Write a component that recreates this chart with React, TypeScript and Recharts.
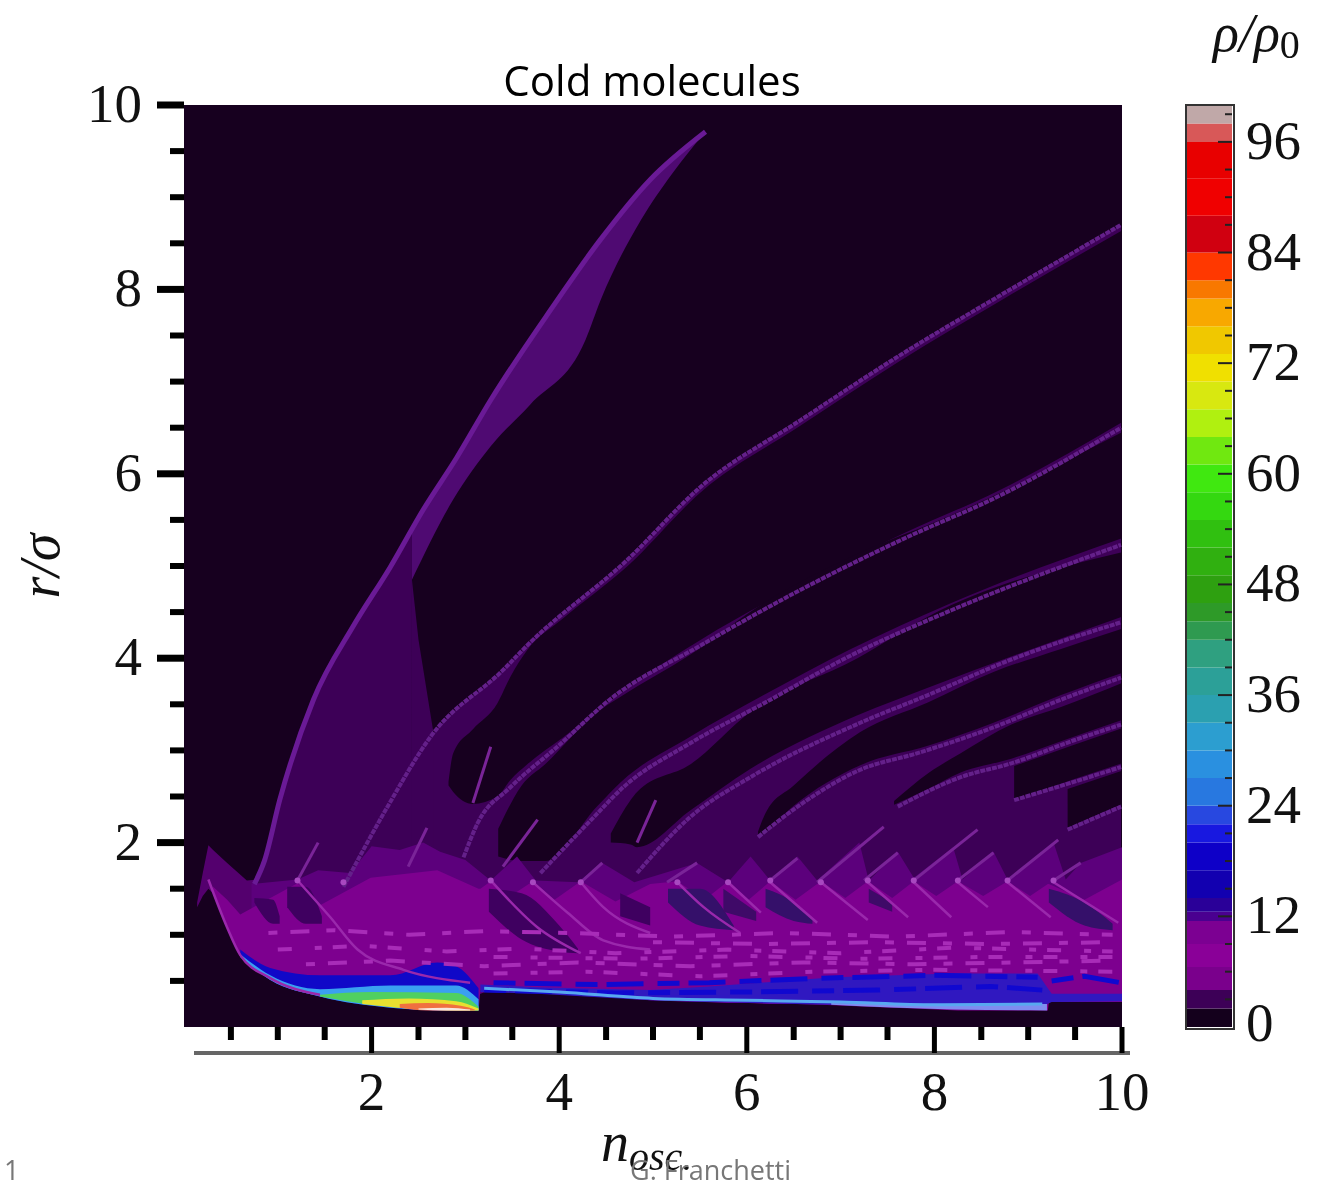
import { Area, Bar, BarChart, ComposedChart, Line, XAxis, YAxis } from 'recharts';

// every band row is [n_osc, low, high], every trace point is [n_osc, r]
type Row = [number, number, number];
type Pt = [number, number];

const axisTicks = [0.5, 1, 1.5, 2, 2.5, 3, 3.5, 4, 4.5, 5, 5.5, 6, 6.5, 7, 7.5, 8, 8.5, 9, 9.5, 10];
const majorTicks = [2, 4, 6, 8, 10];

const backdrop: Row[] = [[0, 0, 10], [10, 0, 10]];
const hump: Row[] = [[0.14, 1.3, 1.35], [0.2, 1.42, 1.67], [0.26, 1.5, 1.97], [0.31, 1.45, 1.92], [0.46, 1.08, 1.78], [0.67, 0.8, 1.59], [0.8, 0.8, 1.6]];
const wedgeLower: Row[] = [[0.75, 1, 1.55], [0.86, 1, 1.81], [1.02, 1, 2.46], [1.38, 1, 3.55], [1.8, 1, 4.34], [2.2, 1, 4.99], [2.43, 1, 5.35]];
const wedgeRight: Row[] = [[2.43, 1, 4.85], [2.5, 1, 4.2], [2.66, 1, 3.19]];
const wedgeUpper: Row[] = [[2.43, 4.85, 5.4], [2.87, 5.72, 6.13], [3.27, 6.3, 6.8], [3.69, 6.75, 7.42], [4.28, 7.45, 8.33], [4.44, 7.88, 8.54], [4.87, 8.75, 9.08], [5.2, 9.25, 9.42], [5.56, 9.71, 9.71]];
const fanBody: Row[] = [[1.7, 1, 1.52], [2.17, 1, 2.39], [2.63, 1, 3.15], [3.4, 1, 3.87], [3.66, 1, 4.14], [4.73, 1, 5.07], [5.51, 1, 5.86], [6.57, 1, 6.58], [7.64, 1, 7.29], [8.71, 1, 7.94], [9.99, 1, 8.7]];

const gapA: Row[] = [[2.82, 2.62, 2.66], [2.87, 2.55, 2.97], [3.08, 2.42, 3.23], [3.34, 2.5, 3.51], [3.48, 2.68, 3.8], [3.66, 2.85, 4.09], [4.04, 3.14, 4.43], [4.73, 3.68, 5.0], [5.51, 4.2, 5.8], [6.57, 4.8, 6.52], [7.64, 5.34, 7.23], [8.71, 5.83, 7.88], [10, 6.56, 8.64]];
const gapB: Row[] = [[3.35, 1.85, 2.15], [3.6, 1.8, 2.62], [3.85, 1.8, 2.85], [4.41, 2.4, 3.42], [4.65, 2.65, 3.58], [5.4, 3.15, 4.04], [6.18, 3.6, 4.6], [7.11, 4.1, 5.1], [8.18, 4.6, 5.55], [10, 5.3, 6.45]];
const gapC: Row[] = [[4.55, 2.0, 2.1], [4.76, 1.98, 2.46], [4.83, 1.95, 2.55], [5.4, 2.35, 2.85], [6.04, 2.8, 3.42], [7.18, 3.38, 4.0], [7.93, 3.68, 4.45], [10, 4.45, 5.15]];
const gapD: Row[] = [[6.12, 2.08, 2.12], [6.2, 2.12, 2.32], [6.5, 2.4, 2.62], [7.21, 2.84, 3.2], [7.93, 3.05, 3.52], [8.63, 3.3, 3.85], [9.35, 3.6, 4.1], [10, 3.84, 4.32]];
const gapE: Row[] = [[7.57, 2.41, 2.45], [7.93, 2.58, 2.75], [8.28, 2.76, 2.97], [8.82, 2.91, 3.28], [9.35, 3.1, 3.47], [10, 3.33, 3.73]];
const gapF: Row[] = [[8.85, 2.46, 2.83], [9.46, 2.68, 3.05], [10, 2.86, 3.24]];
const gapG: Row[] = [[9.42, 2.16, 2.58], [10, 2.42, 2.78]];

const midMass: Row[] = [[0.72, 0.8, 1.55], [1.21, 0.5, 1.6], [1.43, 0.35, 1.7], [1.77, 0.3, 1.67], [2.0, 0.3, 1.96], [2.3, 0.3, 1.92], [2.55, 0.3, 2.0], [2.73, 0.3, 1.9], [3.0, 0.3, 1.81], [3.27, 0.4, 1.59], [3.55, 0.4, 1.85], [3.75, 0.4, 1.59], [4.2, 0.35, 1.57], [4.46, 0.35, 1.78], [4.8, 0.3, 1.57], [5.47, 0.3, 1.78], [5.8, 0.3, 1.57], [6.04, 0.3, 1.85], [6.25, 0.3, 1.59], [6.54, 0.3, 1.85], [6.75, 0.3, 1.59], [7.2, 0.3, 2.0], [7.3, 0.3, 1.59], [7.61, 0.3, 1.9], [7.78, 0.3, 1.62], [8.2, 0.3, 1.95], [8.3, 0.3, 1.6], [8.63, 0.3, 1.9], [8.78, 0.3, 1.6], [9.27, 0.3, 2.0], [9.4, 0.3, 1.6], [9.56, 0.3, 1.78], [10, 0.3, 1.95]];
const magentaMass: Row[] = [[0.31, 1.48, 1.52], [0.46, 1.08, 1.38], [0.6, 0.76, 1.22], [0.92, 0.51, 1.4], [1.21, 0.42, 1.56], [1.45, 0.33, 1.32], [1.99, 0.24, 1.62], [2.7, 0.18, 1.7], [3.14, 0.18, 1.5], [3.16, 0.4, 1.5], [3.27, 0.4, 1.58], [3.45, 0.39, 1.4], [3.72, 0.37, 1.58], [3.95, 0.36, 1.38], [4.23, 0.34, 1.58], [4.6, 0.32, 1.36], [4.97, 0.29, 1.55], [5.26, 0.28, 1.58], [5.55, 0.27, 1.38], [5.8, 0.26, 1.58], [6.02, 0.26, 1.38], [6.25, 0.25, 1.58], [6.52, 0.25, 1.38], [6.79, 0.24, 1.58], [7.05, 0.23, 1.4], [7.29, 0.22, 1.58], [7.55, 0.21, 1.4], [7.78, 0.2, 1.58], [8.02, 0.19, 1.42], [8.25, 0.18, 1.58], [8.52, 0.18, 1.42], [8.78, 0.18, 1.58], [9.02, 0.18, 1.42], [9.21, 0.18, 1.55], [9.22, 0.27, 1.55], [9.6, 0.27, 1.38], [10, 0.27, 1.6]];

const shadeA: Row[] = [[0.75, 1.35, 1.4], [0.95, 1.12, 1.38], [1.02, 1.12, 1.2]];
const shadeB: Row[] = [[1.1, 1.3, 1.52], [1.3, 1.12, 1.52], [1.47, 1.12, 1.2]];
const shadeC: Row[] = [[3.25, 1.25, 1.5], [3.6, 0.95, 1.45], [4.0, 0.82, 1.1], [4.2, 0.8, 0.85]];
const shadeD: Row[] = [[4.65, 1.2, 1.45], [4.97, 1.1, 1.3]];
const shadeE: Row[] = [[5.16, 1.35, 1.5], [5.5, 1.1, 1.5], [5.86, 1.05, 1.1]];
const shadeF: Row[] = [[5.75, 1.25, 1.5], [6.1, 1.15, 1.25]];
const shadeG: Row[] = [[6.2, 1.3, 1.5], [6.5, 1.15, 1.35], [6.7, 1.12, 1.16]];
const shadeH: Row[] = [[7.3, 1.35, 1.5], [7.55, 1.25, 1.35]];
const shadeI: Row[] = [[9.22, 1.35, 1.5], [9.6, 1.1, 1.35], [9.9, 1.05, 1.12]];

const blueFront: Row[] = [[0.6, 0.76, 0.84], [0.92, 0.51, 0.64], [1.45, 0.33, 0.56], [2.2, 0.21, 0.56], [2.7, 0.18, 0.7], [2.9, 0.18, 0.66], [3.14, 0.18, 0.42]];
const azureFront: Row[] = [[0.6, 0.76, 0.79], [0.92, 0.51, 0.56], [1.45, 0.33, 0.41], [2.2, 0.21, 0.45], [2.9, 0.18, 0.45], [3.14, 0.18, 0.3]];
const greenFront: Row[] = [[1.45, 0.33, 0.35], [2.0, 0.24, 0.38], [2.9, 0.18, 0.37], [3.14, 0.18, 0.22]];
const yellowFront: Row[] = [[1.9, 0.25, 0.29], [2.4, 0.2, 0.31], [2.9, 0.18, 0.28], [3.14, 0.18, 0.2]];
const redFront: Row[] = [[2.3, 0.21, 0.25], [2.6, 0.18, 0.26], [2.95, 0.18, 0.23], [3.1, 0.18, 0.19]];
const whiteFront: Row[] = [[2.5, 0.19, 0.2], [2.8, 0.18, 0.21], [3.05, 0.18, 0.19]];
const blueTail: Row[] = [[3.16, 0.38, 0.46], [3.77, 0.36, 0.43], [4.97, 0.29, 0.4], [5.6, 0.27, 0.44], [6.93, 0.24, 0.54], [8.18, 0.2, 0.58], [9.1, 0.2, 0.58], [9.25, 0.27, 0.36], [10, 0.28, 0.36]];
const paleTail: Row[] = [[6.9, 0.24, 0.26], [8.2, 0.19, 0.25], [9.2, 0.18, 0.25]];

const traceWedge: Pt[] = [[0.75, 1.55], [0.86, 1.81], [1.02, 2.46], [1.38, 3.55], [1.8, 4.34], [2.2, 4.99], [2.55, 5.61], [2.91, 6.18], [3.27, 6.8], [3.91, 7.78], [4.44, 8.54], [4.97, 9.19], [5.56, 9.71]];
const traceOne: Pt[] = [[1.7, 1.52], [2.17, 2.39], [2.63, 3.15], [3.4, 3.87], [3.66, 4.14], [4.73, 5.07], [5.51, 5.86], [6.57, 6.58], [7.64, 7.29], [8.71, 7.94], [9.99, 8.7]];
const traceTwo: Pt[] = [[2.98, 1.84], [3.13, 2.21], [3.48, 2.6], [3.98, 3.04], [4.55, 3.56], [5.51, 4.14], [6.57, 4.74], [7.64, 5.28], [8.71, 5.77], [9.99, 6.5]];
const traceThree: Pt[] = [[3.8, 1.67], [4.41, 2.32], [4.65, 2.57], [5.4, 3.08], [6.18, 3.51], [7.11, 4.03], [8.18, 4.52], [9.99, 5.23]];
const traceFour: Pt[] = [[4.83, 1.67], [5.4, 2.28], [6.04, 2.71], [7.21, 3.3], [7.93, 3.6], [8.78, 3.97], [9.35, 4.18], [9.99, 4.39]];
const traceFive: Pt[] = [[6.12, 2.06], [6.57, 2.41], [7.21, 2.79], [7.82, 2.97], [8.63, 3.25], [9.35, 3.55], [9.99, 3.79]];
const traceSix: Pt[] = [[7.61, 2.39], [8.28, 2.71], [8.82, 2.86], [9.49, 3.11], [9.99, 3.28]];
const traceSeven: Pt[] = [[8.85, 2.46], [9.46, 2.65], [9.99, 2.82]];
const traceEight: Pt[] = [[9.42, 2.14], [9.99, 2.39]];

const spikes: Pt[][] = [
  [[1.21, 1.59], [1.43, 2.0]],
  [[2.39, 1.74], [2.59, 2.16]],
  [[3.08, 2.43], [3.27, 3.04]],
  [[3.4, 1.74], [3.77, 2.25]],
  [[4.23, 1.57], [4.46, 1.78]],
  [[4.83, 2.0], [5.03, 2.46]],
  [[5.15, 1.57], [5.47, 1.78]],
  [[6.25, 1.59], [6.54, 1.83]],
  [[6.75, 1.57], [7.46, 2.17]],
  [[7.25, 1.59], [7.61, 1.89]],
  [[7.78, 1.59], [8.46, 2.14]],
  [[8.25, 1.59], [8.63, 1.89]],
  [[8.78, 1.59], [9.32, 2.03]],
  [[9.27, 1.59], [9.56, 1.78]],
];

const arcs: Pt[][] = [
  [[0.26, 1.6], [0.46, 1.08], [0.6, 0.78], [0.92, 0.53], [1.45, 0.35]],
  [[1.21, 1.59], [1.56, 1.19], [1.85, 0.84], [2.34, 0.62], [3.05, 0.48]],
  [[3.27, 1.59], [3.77, 1.08], [4.23, 0.8]],
  [[3.72, 1.57], [4.09, 1.24], [4.47, 0.94], [4.97, 0.84]],
  [[4.23, 1.57], [4.47, 1.3], [4.97, 1.02]],
  [[5.26, 1.57], [5.54, 1.3], [5.93, 1.02]],
  [[5.8, 1.57], [6.15, 1.24]],
  [[6.25, 1.57], [6.75, 1.13]],
  [[6.79, 1.57], [7.29, 1.16]],
  [[7.29, 1.57], [7.72, 1.19]],
  [[7.78, 1.57], [8.18, 1.19]],
  [[8.25, 1.57], [8.57, 1.3]],
  [[8.78, 1.57], [9.24, 1.19]],
  [[9.27, 1.57], [9.96, 1.13]],
];

const cusps: Pt[] = [[1.21, 1.59], [1.7, 1.57], [3.27, 1.59], [3.72, 1.57], [4.23, 1.57], [5.26, 1.57], [5.8, 1.57], [6.25, 1.59], [6.79, 1.57], [7.29, 1.59], [7.78, 1.59], [8.25, 1.59], [8.78, 1.59], [9.27, 1.59]];

const speckleHigh: Pt[][] = [
  [[0.9, 1.02], [1.6, 1.05], [2.4, 1.0], [3.2, 1.04], [4.1, 1.02], [5.2, 0.98], [6.4, 1.02], [7.6, 0.98], [8.8, 1.03], [9.9, 1.0]],
  [[1.0, 0.84], [1.9, 0.88], [2.8, 0.82], [3.6, 0.85], [4.6, 0.8], [5.8, 0.84], [7.0, 0.8], [8.2, 0.86], [9.9, 0.82]],
  [[1.3, 0.68], [2.2, 0.72], [3.2, 0.66], [4.2, 0.7], [5.4, 0.66], [6.6, 0.7], [7.8, 0.68], [9.9, 0.72]],
  [[3.3, 0.58], [4.3, 0.6], [5.5, 0.55], [6.7, 0.6], [8.0, 0.62], [9.9, 0.6]],
  [[5.0, 0.92], [6.2, 0.9], [7.4, 0.92], [8.6, 0.9], [9.9, 0.92]],
  [[3.3, 0.76], [4.8, 0.74], [6.0, 0.77], [7.2, 0.74], [8.6, 0.76], [9.9, 0.76]],
];
const speckleBlue: Pt[][] = [
  [[3.3, 0.48], [4.4, 0.46], [5.6, 0.48], [6.8, 0.53], [8.0, 0.56], [9.1, 0.54]],
  [[3.2, 0.4], [4.6, 0.37], [6.0, 0.38], [7.4, 0.4], [8.6, 0.44], [9.15, 0.4]],
  [[9.25, 0.5], [9.6, 0.55], [9.99, 0.48]],
];
const azureEdge: Pt[] = [[3.2, 0.42], [4.0, 0.38], [5.0, 0.31], [6.0, 0.29], [7.0, 0.27], [8.0, 0.24], [9.15, 0.25]];

// colour bar, heights of the levels from the bottom up
const barLevels = [2, 2, 2.5, 2.5, 2.5, 1, 1.5, 3, 3, 2, 2, 3, 3, 3, 3, 3, 3, 2, 2, 3, 3, 3, 3, 3, 3, 3, 3, 3, 3, 3, 2, 3, 4, 4, 4, 2, 2];
const barColors = ['#14001c', '#3d0057', '#7a008c', '#8a0098', '#7c0092', '#4a0090', '#2a0098', '#1200b0', '#0e00c8', '#1818e0', '#2848e0', '#2878e0', '#2a90e0', '#2c9ed0', '#2ba0b0', '#2ca098', '#2fa080', '#2f9a50', '#2e9a28', '#2ea010', '#30b010', '#30c010', '#34d810', '#40e810', '#70e810', '#b0f010', '#d8e810', '#f0e000', '#f0c800', '#f8a800', '#f87800', '#ff3800', '#d00010', '#f00000', '#e80000', '#d85858', '#c0a8a8'];
const barTicks = [0, 3, 6, 9, 12, 15, 18, 21, 24, 27, 30, 33, 36, 39, 42, 45, 48, 51, 54, 57, 60, 63, 66, 69, 72, 75, 78, 81, 84, 87, 90, 93, 96, 99];

const BLACK = '#17001f';
const DARK = '#3d0057';
const serif = '"Liberation Serif", serif';

const bands: [Row[], string, 'linear' | 'monotone'][] = [
  [backdrop, BLACK, 'linear'],
  [fanBody, DARK, 'monotone'],
  [gapA, BLACK, 'monotone'], [gapB, BLACK, 'monotone'], [gapC, BLACK, 'monotone'], [gapD, BLACK, 'monotone'], [gapE, BLACK, 'monotone'], [gapF, BLACK, 'linear'], [gapG, BLACK, 'linear'],
  [hump, '#54006e', 'linear'],
  [wedgeLower, DARK, 'monotone'],
  [wedgeRight, DARK, 'linear'],
  [wedgeUpper, '#4f0a72', 'monotone'],
  [midMass, '#5c007c', 'linear'],
  [magentaMass, '#7d008f', 'linear'],
  [shadeA, '#3f0060', 'monotone'], [shadeB, '#3f0060', 'monotone'], [shadeC, '#3f0060', 'monotone'], [shadeD, '#3f0060', 'monotone'], [shadeE, '#35106a', 'monotone'],
  [shadeF, '#3f0a68', 'monotone'], [shadeG, '#35106a', 'monotone'], [shadeH, '#3f0a68', 'monotone'], [shadeI, '#35106a', 'monotone'],
  [blueTail, '#3018c0', 'linear'],
  [paleTail, '#7f8cf0', 'monotone'],
  [blueFront, '#1008c8', 'monotone'],
  [azureFront, '#3aa0f0', 'monotone'],
  [greenFront, '#50d060', 'monotone'],
  [yellowFront, '#e8e030', 'monotone'],
  [redFront, '#f07040', 'monotone'],
  [whiteFront, '#f8e8e0', 'monotone'],
];

const toBand = (rows: Row[]) => rows.map(([x, low, high]) => ({ x, range: [low, high] }));
const toLine = (pts: Pt[]) => pts.map(([x, y]) => ({ x, y }));

function XTick({ x, payload }: any) {
  const major = majorTicks.includes(payload.value);
  return (
    <g>
      <line x1={x} x2={x} y1={1027} y2={major ? 1053 : 1040} stroke="#000" strokeWidth={major ? 5 : 6} />
      {major && <text x={x} y={1110} textAnchor="middle" fontFamily={serif} fontSize={55} fill="#111">{payload.value}</text>}
    </g>
  );
}

function YTick({ y, payload }: any) {
  const major = majorTicks.includes(payload.value);
  return (
    <g>
      <line x1={major ? 157 : 170} x2={184} y1={y} y2={y} stroke="#000" strokeWidth={major ? 7 : 6} />
      {major && <text x={142} y={y + 17} textAnchor="end" fontFamily={serif} fontSize={55} fill="#111">{payload.value}</text>}
    </g>
  );
}

function BarTick({ y, payload }: any) {
  const major = payload.value % 12 === 0;
  const bottom = payload.value === 0;
  return (
    <g>
      {!bottom && <line x1={major ? 1218 : 1225} x2={1232} y1={y} y2={y} stroke="#222" strokeWidth={2} />}
      {major && <text x={1246} y={bottom ? y + 14 : y + 17} fontFamily={serif} fontSize={55} fill="#111">{payload.value}</text>}
    </g>
  );
}

export default function App() {
  const barRow: Record<string, number | string> = { name: 'rho' };
  barLevels.forEach((h, i) => { barRow[`l${i}`] = h; });

  return (
    <div style={{ position: 'absolute', left: 0, top: 0, width: 1318, height: 1188, background: '#fff', overflow: 'hidden', filter: 'blur(0.6px)' }}>
      <div style={{ position: 'absolute', left: 0, top: 0 }}>
        <ComposedChart width={1318} height={1188} margin={{ top: 105, right: 196, bottom: 0, left: 0 }}>
          <XAxis type="number" dataKey="x" domain={[0, 10]} ticks={axisTicks} interval={0} height={161} allowDataOverflow axisLine={false} tickLine={false} tick={<XTick />} />
          <YAxis type="number" domain={[0, 10]} ticks={axisTicks} interval={0} width={184} allowDataOverflow axisLine={false} tickLine={false} tick={<YTick />} />
          {bands.map(([rows, color, curve], i) => (
            <Area key={i} data={toBand(rows)} dataKey="range" type={curve} fill={color} fillOpacity={1} stroke="none" isAnimationActive={false} dot={false} activeDot={false} />
          ))}
          <Line data={toLine(traceWedge)} type="monotone" dataKey="y" stroke="#6a1a96" strokeWidth={5} dot={false} activeDot={false} isAnimationActive={false} />
          {[traceOne, traceTwo, traceThree, traceFour, traceFive, traceSix, traceSeven, traceEight].map((pts, i) => (
            <Line key={i} data={toLine(pts)} type="monotone" dataKey="y" stroke="#64208a" strokeWidth={4} strokeDasharray="5 1" dot={false} activeDot={false} isAnimationActive={false} />
          ))}
          {spikes.map((pts, i) => (
            <Line key={i} data={toLine(pts)} dataKey="y" stroke="#7a2498" strokeWidth={3} dot={false} activeDot={false} isAnimationActive={false} />
          ))}
          {arcs.map((pts, i) => (
            <Line key={i} data={toLine(pts)} type="monotone" dataKey="y" stroke="#9a28ac" strokeWidth={2.5} dot={false} activeDot={false} isAnimationActive={false} />
          ))}
          {speckleHigh.map((pts, i) => (
            <Line key={i} data={toLine(pts)} dataKey="y" stroke="#a82cb8" strokeWidth={4} strokeDasharray={i % 2 ? '14 23 7 11' : '9 13 19 17'} dot={false} activeDot={false} isAnimationActive={false} />
          ))}
          {speckleBlue.map((pts, i) => (
            <Line key={i} data={toLine(pts)} dataKey="y" stroke="#1008d0" strokeWidth={5} strokeDasharray="22 9 37 14" dot={false} activeDot={false} isAnimationActive={false} />
          ))}
          <Line data={toLine(azureEdge)} type="monotone" dataKey="y" stroke="#58a8f0" strokeWidth={3} dot={false} activeDot={false} isAnimationActive={false} />
          <Line data={toLine(cusps)} dataKey="y" stroke="none" dot={{ r: 3, fill: '#a848c0', stroke: 'none' }} activeDot={false} isAnimationActive={false} />
          <line x1={194} x2={1130} y1={1053} y2={1053} stroke="#666" strokeWidth={4} />
          <text x={652} y={96} textAnchor="middle" fontFamily="'Open Sans', sans-serif" fontSize={42} fill="#000">Cold molecules</text>
          <text transform="translate(59 566) rotate(-90)" textAnchor="middle" fontFamily={serif} fontStyle="italic" fontSize={56} fill="#111">r/σ</text>
          <text x={601} y={1161} fontFamily={serif} fontStyle="italic" fontSize={56} fill="#111">n<tspan dy={9} fontSize={40}>osc.</tspan></text>
          <text x={1213} y={51} fontFamily={serif} fontStyle="italic" fontSize={54} fill="#111">ρ/ρ<tspan dy={7} fontSize={40} fontStyle="normal">0</tspan></text>
          <text x={4} y={1180} fontFamily="'Open Sans', sans-serif" fontSize={27} fill="#777">1</text>
          <text x={630} y={1180} fontFamily="'Open Sans', sans-serif" fontSize={27} fill="#777">G. Franchetti</text>
        </ComposedChart>
      </div>
      <div style={{ position: 'absolute', left: 0, top: 0 }}>
        <BarChart width={1318} height={1188} data={[barRow]} margin={{ top: 105, right: 0, bottom: 161, left: 1186 }} barCategoryGap={0}>
          <XAxis dataKey="name" hide />
          <YAxis orientation="right" type="number" domain={[0, 100]} ticks={barTicks} interval={0} width={86} axisLine={false} tickLine={false} tick={<BarTick />} allowDataOverflow />
          {barLevels.map((_, i) => (
            <Bar key={i} dataKey={`l${i}`} stackId="rho" fill={barColors[i]} isAnimationActive={false} />
          ))}
        </BarChart>
      </div>
      <div style={{ position: 'absolute', left: 1185, top: 104, width: 46, height: 922, border: '2px solid #333' }} />
    </div>
  );
}
